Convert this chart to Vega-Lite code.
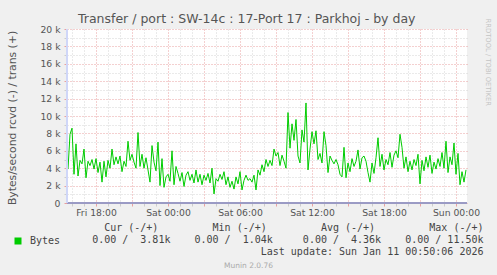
{
"$schema": "https://vega.github.io/schema/vega-lite/v6.json",
"width": 400, "height": 174,
"autosize": "none",
"padding": {"left": 67, "top": 29, "right": 30, "bottom": 72},
"background": "#F0F0F0",
"view": {"fill": "#FFFFFF", "stroke": null},
"title": {"text": "Transfer / port : SW-14c : 17-Port 17 : Parkhoj - by day", "anchor": "start", "frame": "group", "dx": 11, "dy": 11, "font": "DejaVu Sans", "fontSize": 12.5, "fontWeight": "normal", "color": "#555555", "offset": 4},
"data": {"values": [
{"t":"2026-01-09T15:40Z","v":3900},{"t":"2026-01-09T15:50Z","v":7900},{"t":"2026-01-09T16:00Z","v":8600},{"t":"2026-01-09T16:10Z","v":3300},{"t":"2026-01-09T16:20Z","v":6800},
{"t":"2026-01-09T16:30Z","v":3100},{"t":"2026-01-09T16:40Z","v":4900},{"t":"2026-01-09T16:50Z","v":4500},{"t":"2026-01-09T17:00Z","v":6200},{"t":"2026-01-09T17:10Z","v":2900},
{"t":"2026-01-09T17:20Z","v":4800},{"t":"2026-01-09T17:30Z","v":4300},{"t":"2026-01-09T17:40Z","v":5000},{"t":"2026-01-09T17:50Z","v":3900},{"t":"2026-01-09T18:00Z","v":5100},
{"t":"2026-01-09T18:10Z","v":3500},{"t":"2026-01-09T18:20Z","v":4700},{"t":"2026-01-09T18:30Z","v":2400},{"t":"2026-01-09T18:40Z","v":4800},{"t":"2026-01-09T18:50Z","v":3000},
{"t":"2026-01-09T19:00Z","v":4900},{"t":"2026-01-09T19:10Z","v":4000},{"t":"2026-01-09T19:20Z","v":6200},{"t":"2026-01-09T19:30Z","v":4400},{"t":"2026-01-09T19:40Z","v":5300},
{"t":"2026-01-09T19:50Z","v":4500},{"t":"2026-01-09T20:00Z","v":5400},{"t":"2026-01-09T20:10Z","v":3600},{"t":"2026-01-09T20:20Z","v":4800},{"t":"2026-01-09T20:30Z","v":4200},
{"t":"2026-01-09T20:40Z","v":7100},{"t":"2026-01-09T20:50Z","v":4900},{"t":"2026-01-09T21:00Z","v":5600},{"t":"2026-01-09T21:10Z","v":4700},{"t":"2026-01-09T21:20Z","v":4000},
{"t":"2026-01-09T21:30Z","v":8100},{"t":"2026-01-09T21:40Z","v":4200},{"t":"2026-01-09T21:50Z","v":5600},{"t":"2026-01-09T22:00Z","v":4000},{"t":"2026-01-09T22:10Z","v":5200},
{"t":"2026-01-09T22:20Z","v":3800},{"t":"2026-01-09T22:30Z","v":2400},{"t":"2026-01-09T22:40Z","v":6600},{"t":"2026-01-09T22:50Z","v":4700},{"t":"2026-01-09T23:00Z","v":3700},
{"t":"2026-01-09T23:10Z","v":7000},{"t":"2026-01-09T23:20Z","v":2000},{"t":"2026-01-09T23:30Z","v":5100},{"t":"2026-01-09T23:40Z","v":1800},{"t":"2026-01-09T23:50Z","v":3000},
{"t":"2026-01-10T00:00Z","v":3300},{"t":"2026-01-10T00:10Z","v":2500},{"t":"2026-01-10T00:20Z","v":6000},{"t":"2026-01-10T00:30Z","v":2100},{"t":"2026-01-10T00:40Z","v":4200},
{"t":"2026-01-10T00:50Z","v":3400},{"t":"2026-01-10T01:00Z","v":2500},{"t":"2026-01-10T01:10Z","v":3500},{"t":"2026-01-10T01:20Z","v":1900},{"t":"2026-01-10T01:30Z","v":3200},
{"t":"2026-01-10T01:40Z","v":3600},{"t":"2026-01-10T01:50Z","v":2600},{"t":"2026-01-10T02:00Z","v":3300},{"t":"2026-01-10T02:10Z","v":2300},{"t":"2026-01-10T02:20Z","v":3800},
{"t":"2026-01-10T02:30Z","v":2400},{"t":"2026-01-10T02:40Z","v":3300},{"t":"2026-01-10T02:50Z","v":2100},{"t":"2026-01-10T03:00Z","v":3200},{"t":"2026-01-10T03:10Z","v":2600},
{"t":"2026-01-10T03:20Z","v":3400},{"t":"2026-01-10T03:30Z","v":2300},{"t":"2026-01-10T03:40Z","v":4000},{"t":"2026-01-10T03:50Z","v":1040},{"t":"2026-01-10T04:00Z","v":2800},
{"t":"2026-01-10T04:10Z","v":2500},{"t":"2026-01-10T04:20Z","v":3300},{"t":"2026-01-10T04:30Z","v":2700},{"t":"2026-01-10T04:40Z","v":3600},{"t":"2026-01-10T04:50Z","v":2100},
{"t":"2026-01-10T05:00Z","v":3000},{"t":"2026-01-10T05:10Z","v":1800},{"t":"2026-01-10T05:20Z","v":2500},{"t":"2026-01-10T05:30Z","v":1600},{"t":"2026-01-10T05:40Z","v":3000},
{"t":"2026-01-10T05:50Z","v":2200},{"t":"2026-01-10T06:00Z","v":3600},{"t":"2026-01-10T06:10Z","v":1500},{"t":"2026-01-10T06:20Z","v":2600},{"t":"2026-01-10T06:30Z","v":3200},
{"t":"2026-01-10T06:40Z","v":2600},{"t":"2026-01-10T06:50Z","v":2800},{"t":"2026-01-10T07:00Z","v":2400},{"t":"2026-01-10T07:10Z","v":3200},{"t":"2026-01-10T07:20Z","v":1500},
{"t":"2026-01-10T07:30Z","v":3800},{"t":"2026-01-10T07:40Z","v":3200},{"t":"2026-01-10T07:50Z","v":4400},{"t":"2026-01-10T08:00Z","v":3600},{"t":"2026-01-10T08:10Z","v":5000},
{"t":"2026-01-10T08:20Z","v":4200},{"t":"2026-01-10T08:30Z","v":4900},{"t":"2026-01-10T08:40Z","v":4300},{"t":"2026-01-10T08:50Z","v":6200},{"t":"2026-01-10T09:00Z","v":5400},
{"t":"2026-01-10T09:10Z","v":5800},{"t":"2026-01-10T09:20Z","v":4300},{"t":"2026-01-10T09:30Z","v":5500},{"t":"2026-01-10T09:40Z","v":4800},{"t":"2026-01-10T09:50Z","v":4000},
{"t":"2026-01-10T10:00Z","v":10400},{"t":"2026-01-10T10:10Z","v":6300},{"t":"2026-01-10T10:20Z","v":9100},{"t":"2026-01-10T10:30Z","v":7200},{"t":"2026-01-10T10:40Z","v":9600},
{"t":"2026-01-10T10:50Z","v":5400},{"t":"2026-01-10T11:00Z","v":4600},{"t":"2026-01-10T11:10Z","v":8400},{"t":"2026-01-10T11:20Z","v":7000},{"t":"2026-01-10T11:30Z","v":11500},
{"t":"2026-01-10T11:40Z","v":3800},{"t":"2026-01-10T11:50Z","v":6200},{"t":"2026-01-10T12:00Z","v":8200},{"t":"2026-01-10T12:10Z","v":6800},{"t":"2026-01-10T12:20Z","v":8300},
{"t":"2026-01-10T12:30Z","v":5000},{"t":"2026-01-10T12:40Z","v":5700},{"t":"2026-01-10T12:50Z","v":4600},{"t":"2026-01-10T13:00Z","v":8200},{"t":"2026-01-10T13:10Z","v":6600},
{"t":"2026-01-10T13:20Z","v":3500},{"t":"2026-01-10T13:30Z","v":5400},{"t":"2026-01-10T13:40Z","v":4900},{"t":"2026-01-10T13:50Z","v":4500},{"t":"2026-01-10T14:00Z","v":5000},
{"t":"2026-01-10T14:10Z","v":4400},{"t":"2026-01-10T14:20Z","v":3300},{"t":"2026-01-10T14:30Z","v":3000},{"t":"2026-01-10T14:40Z","v":6400},{"t":"2026-01-10T14:50Z","v":2900},
{"t":"2026-01-10T15:00Z","v":4600},{"t":"2026-01-10T15:10Z","v":3600},{"t":"2026-01-10T15:20Z","v":5100},{"t":"2026-01-10T15:30Z","v":4200},{"t":"2026-01-10T15:40Z","v":4800},
{"t":"2026-01-10T15:50Z","v":6100},{"t":"2026-01-10T16:00Z","v":3900},{"t":"2026-01-10T16:10Z","v":5200},{"t":"2026-01-10T16:20Z","v":5400},{"t":"2026-01-10T16:30Z","v":4800},
{"t":"2026-01-10T16:40Z","v":3500},{"t":"2026-01-10T16:50Z","v":2400},{"t":"2026-01-10T17:00Z","v":4600},{"t":"2026-01-10T17:10Z","v":3400},{"t":"2026-01-10T17:20Z","v":5200},
{"t":"2026-01-10T17:30Z","v":7500},{"t":"2026-01-10T17:40Z","v":4200},{"t":"2026-01-10T17:50Z","v":5600},{"t":"2026-01-10T18:00Z","v":3800},{"t":"2026-01-10T18:10Z","v":5000},
{"t":"2026-01-10T18:20Z","v":4400},{"t":"2026-01-10T18:30Z","v":5800},{"t":"2026-01-10T18:40Z","v":4100},{"t":"2026-01-10T18:50Z","v":5500},{"t":"2026-01-10T19:00Z","v":6000},
{"t":"2026-01-10T19:10Z","v":5200},{"t":"2026-01-10T19:20Z","v":7900},{"t":"2026-01-10T19:30Z","v":6400},{"t":"2026-01-10T19:40Z","v":4000},{"t":"2026-01-10T19:50Z","v":5300},
{"t":"2026-01-10T20:00Z","v":3600},{"t":"2026-01-10T20:10Z","v":4800},{"t":"2026-01-10T20:20Z","v":3800},{"t":"2026-01-10T20:30Z","v":5000},{"t":"2026-01-10T20:40Z","v":4300},
{"t":"2026-01-10T20:50Z","v":5600},{"t":"2026-01-10T21:00Z","v":2200},{"t":"2026-01-10T21:10Z","v":4900},{"t":"2026-01-10T21:20Z","v":3700},{"t":"2026-01-10T21:30Z","v":5300},
{"t":"2026-01-10T21:40Z","v":4100},{"t":"2026-01-10T21:50Z","v":5500},{"t":"2026-01-10T22:00Z","v":3400},{"t":"2026-01-10T22:10Z","v":4700},{"t":"2026-01-10T22:20Z","v":3900},
{"t":"2026-01-10T22:30Z","v":5100},{"t":"2026-01-10T22:40Z","v":4200},{"t":"2026-01-10T22:50Z","v":5800},{"t":"2026-01-10T23:00Z","v":4000},{"t":"2026-01-10T23:10Z","v":7100},
{"t":"2026-01-10T23:20Z","v":3500},{"t":"2026-01-10T23:30Z","v":5300},{"t":"2026-01-10T23:40Z","v":4400},{"t":"2026-01-10T23:50Z","v":6900},{"t":"2026-01-11T00:00Z","v":3300},
{"t":"2026-01-11T00:10Z","v":5700},{"t":"2026-01-11T00:20Z","v":2100},{"t":"2026-01-11T00:30Z","v":3600},{"t":"2026-01-11T00:40Z","v":2400},{"t":"2026-01-11T00:50Z","v":3810}
]},
"layer": [
{
"mark": {"type": "line", "strokeWidth": 1, "interpolate": "linear"},
"encoding": {
"x": {"field": "t", "type": "temporal",
 "scale": {"type": "utc", "nice": false, "domain": [{"year": 2026, "month": 1, "date": 9, "hours": 15, "minutes": 35, "utc": true}, {"year": 2026, "month": 1, "date": 11, "hours": 0, "minutes": 55, "utc": true}]},
 "axis": {"orient": "bottom",
  "values": [
   {"year":2026,"month":1,"date":9,"hours":16,"utc":true},{"year":2026,"month":1,"date":9,"hours":17,"utc":true},{"year":2026,"month":1,"date":9,"hours":18,"utc":true},
   {"year":2026,"month":1,"date":9,"hours":19,"utc":true},{"year":2026,"month":1,"date":9,"hours":20,"utc":true},{"year":2026,"month":1,"date":9,"hours":21,"utc":true},
   {"year":2026,"month":1,"date":9,"hours":22,"utc":true},{"year":2026,"month":1,"date":9,"hours":23,"utc":true},{"year":2026,"month":1,"date":10,"hours":0,"utc":true},
   {"year":2026,"month":1,"date":10,"hours":1,"utc":true},{"year":2026,"month":1,"date":10,"hours":2,"utc":true},{"year":2026,"month":1,"date":10,"hours":3,"utc":true},
   {"year":2026,"month":1,"date":10,"hours":4,"utc":true},{"year":2026,"month":1,"date":10,"hours":5,"utc":true},{"year":2026,"month":1,"date":10,"hours":6,"utc":true},
   {"year":2026,"month":1,"date":10,"hours":7,"utc":true},{"year":2026,"month":1,"date":10,"hours":8,"utc":true},{"year":2026,"month":1,"date":10,"hours":9,"utc":true},
   {"year":2026,"month":1,"date":10,"hours":10,"utc":true},{"year":2026,"month":1,"date":10,"hours":11,"utc":true},{"year":2026,"month":1,"date":10,"hours":12,"utc":true},
   {"year":2026,"month":1,"date":10,"hours":13,"utc":true},{"year":2026,"month":1,"date":10,"hours":14,"utc":true},{"year":2026,"month":1,"date":10,"hours":15,"utc":true},
   {"year":2026,"month":1,"date":10,"hours":16,"utc":true},{"year":2026,"month":1,"date":10,"hours":17,"utc":true},{"year":2026,"month":1,"date":10,"hours":18,"utc":true},
   {"year":2026,"month":1,"date":10,"hours":19,"utc":true},{"year":2026,"month":1,"date":10,"hours":20,"utc":true},{"year":2026,"month":1,"date":10,"hours":21,"utc":true},
   {"year":2026,"month":1,"date":10,"hours":22,"utc":true},{"year":2026,"month":1,"date":10,"hours":23,"utc":true},{"year":2026,"month":1,"date":11,"hours":0,"utc":true}],
  "labelExpr": "utchours(datum.value) % 6 === 0 ? utcFormat(datum.value, '%a %H:%M') : ''",
  "labelOverlap": false, "labelFlush": false, "labelFont": "DejaVu Sans", "labelFontSize": 9.25, "labelColor": "#555555", "labelBaseline": "alphabetic", "labelPadding": 9,
  "ticks": true, "tickSize": 3,
  "tickColor": {"condition": {"test": "utchours(datum.value) % 3 === 0", "value": "#e8a0a0"}, "value": "#cccccc"},
  "grid": true,
  "gridColor": {"condition": {"test": "utchours(datum.value) % 3 === 0", "value": "#e8a0a0"}, "value": "#d4d4d4"},
  "gridDash": [1, 2], "gridWidth": 1, "domain": false,
  "title": ["Cur\u00a0(-/+)\u00a0\u00a0\u00a0\u00a0\u00a0\u00a0\u00a0\u00a0\u00a0Min\u00a0(-/+)\u00a0\u00a0\u00a0\u00a0\u00a0\u00a0\u00a0\u00a0\u00a0Avg\u00a0(-/+)\u00a0\u00a0\u00a0\u00a0\u00a0\u00a0\u00a0\u00a0\u00a0Max\u00a0(-/+)\u00a0",
           "0.00\u00a0/\u00a0\u00a03.81k\u00a0\u00a0\u00a0\u00a00.00\u00a0/\u00a0\u00a01.04k\u00a0\u00a0\u00a0\u00a0\u00a00.00\u00a0/\u00a0\u00a04.36k\u00a0\u00a0\u00a0\u00a00.00\u00a0/\u00a011.50k",
           "Last update: Sun Jan 11 00:50:06 2026"],
  "titleFont": "DejaVu Sans Mono", "titleFontSize": 10, "titleFontWeight": "normal", "titleColor": "#444444",
  "titleAlign": "right", "titleBaseline": "alphabetic", "titleX": 416, "titleY": 27.7, "titleLineHeight": 12}},
"y": {"field": "v", "type": "quantitative",
 "scale": {"domain": [0, 20000], "nice": false},
 "axis": {"values": [0,1000,2000,3000,4000,5000,6000,7000,8000,9000,10000,11000,12000,13000,14000,15000,16000,17000,18000,19000,20000],
  "labelExpr": "datum.value % 2000 === 0 ? (datum.value === 0 ? '0\u00a0\u00a0' : datum.value / 1000 + ' k') : ''",
  "labelFont": "DejaVu Sans", "labelFontSize": 9.25, "labelColor": "#555555", "labelPadding": 4, "labelBaseline": "middle", "labelOverlap": false,
  "ticks": true, "tickSize": 3,
  "tickColor": {"condition": {"test": "datum.value % 2000 === 0", "value": "#e8a0a0"}, "value": "#cccccc"},
  "grid": true,
  "gridColor": {"condition": {"test": "datum.value % 2000 === 0", "value": "#e8a0a0"}, "value": "#d4d4d4"},
  "gridDash": [1, 2], "domain": false,
  "title": "Bytes/second rcvd (-) / trans (+)", "titleFont": "DejaVu Sans", "titleFontSize": 10.8, "titleFontWeight": "normal", "titleColor": "#555555",
  "titleAngle": -90, "titleAlign": "center", "titleBaseline": "middle", "titleX": -54.5, "titleY": 88.5}},
"color": {"datum": "Bytes", "type": "nominal", "scale": {"range": ["#00CC00"]},
 "legend": {"orient": "none", "legendX": -54, "legendY": 207, "title": null, "padding": 0,
  "symbolType": "square", "symbolSize": 49, "symbolFillColor": "#00CC00", "symbolStrokeColor": "#00CC00", "symbolStrokeWidth": 0, "symbolOpacity": 1,
  "labelFont": "DejaVu Sans Mono", "labelFontSize": 10, "labelColor": "#444444", "labelOffset": 7}}
}
},
{
"mark": {"type": "rule", "color": "#9a9ac4", "strokeWidth": 1},
"encoding": {
"y": {"datum": 0, "type": "quantitative",
 "axis": {"orient": "right", "labels": false, "ticks": false, "domain": false, "grid": false,
  "title": "RRDTOOL / TOBI OETIKER", "titleFont": "DejaVu Sans", "titleFontSize": 6.8, "titleFontWeight": "normal", "titleColor": "#c4c4c4",
  "titleAngle": 90, "titleAlign": "left", "titleBaseline": "middle", "titleX": 20, "titleY": -11}}
}
},
{
"mark": {"type": "rule", "color": "#cfd6f8", "strokeWidth": 1},
"encoding": {
"x": {"datum": {"year": 2026, "month": 1, "date": 9, "hours": 15, "minutes": 35, "utc": true}, "type": "temporal",
 "axis": {"orient": "bottom", "labels": false, "ticks": false, "domain": false, "grid": false,
  "title": "Munin 2.0.76", "titleFont": "DejaVu Sans", "titleFontSize": 7.5, "titleFontWeight": "normal", "titleColor": "#aaaaaa",
  "titleAlign": "center", "titleBaseline": "alphabetic", "titleX": 181, "titleY": 64}}
}
}
],
"resolve": {"axis": {"x": "independent", "y": "independent"}}
}
